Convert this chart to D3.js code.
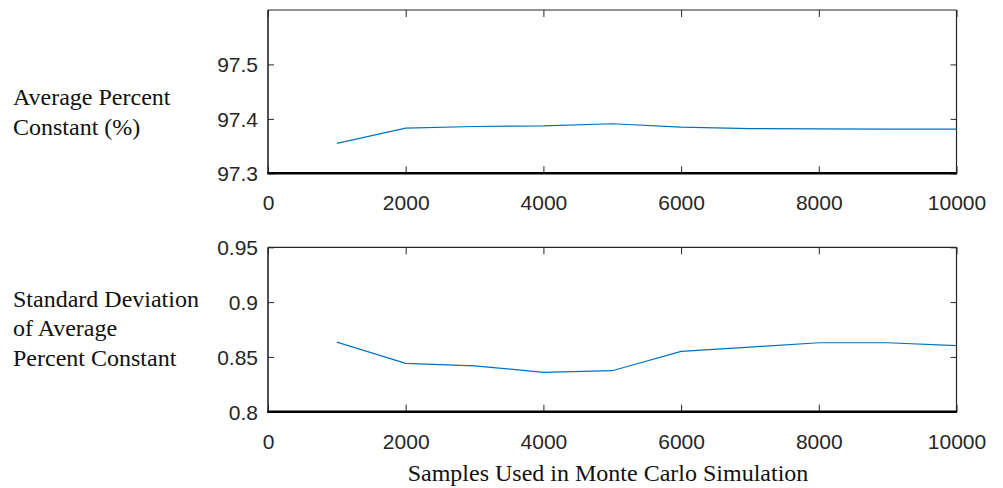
<!DOCTYPE html>
<html>
<head>
<meta charset="utf-8">
<script src="https://cdn.jsdelivr.net/npm/d3@7"></script>
<style>
  body { margin: 0; background: #fff; }
  .tick text { font-family: "Liberation Sans", Arial, sans-serif; font-size: 21px; fill: #262626; }
  .lbl { font-family: "Liberation Serif", "Times New Roman", serif; font-size: 24px; fill: #111; }
</style>
</head>
<body>
<svg id="chart" width="1003" height="488"></svg>
<script>
// samples used (x) and the two series
var samples = [1000, 2000, 3000, 4000, 5000, 6000, 7000, 8000, 9000, 10000];
var avgPercent = [97.355, 97.383, 97.386, 97.387, 97.391, 97.385, 97.382, 97.3815, 97.381, 97.381];
var stdPercent = [0.8635, 0.8441, 0.8419, 0.8359, 0.8374, 0.855, 0.859, 0.8629, 0.8629, 0.8602];
var xTicks = [0, 2000, 4000, 6000, 8000, 10000];
var topTicks = [97.3, 97.4, 97.5];
var botTicks = [0.8, 0.85, 0.9, 0.95];

var svg = d3.select("#chart");
var x = d3.scaleLinear().domain([0, 10000]).range([268, 956.5]);

var drawPanel = function (vals, yDomain, yRange, ticks, labelLines, labelY) {
    var y = d3.scaleLinear().domain(yDomain).range(yRange);
    var g = svg.append("g");
    var x0 = x.range()[0], x1 = x.range()[1], yb = yRange[0], yt = yRange[1];

    // bottom axis, ticks pointing inward
    var xa = g.append("g").attr("transform", "translate(0," + yb + ")")
        .call(d3.axisBottom(x).tickValues(xTicks).tickSize(-7).tickPadding(0).tickFormat(d3.format("d")));
    xa.select(".domain").remove();
    xa.selectAll(".tick line").attr("stroke", "#262626");
    xa.selectAll(".tick text").attr("dy", "1.33em").attr("y", 9);

    // top ticks
    var xt = g.append("g").attr("transform", "translate(0," + yt + ")")
        .call(d3.axisTop(x).tickValues(xTicks).tickSize(-7).tickFormat(""));
    xt.select(".domain").remove();
    xt.selectAll(".tick line").attr("stroke", "#262626");

    // left axis
    var ya = g.append("g").attr("transform", "translate(" + x0 + ",0)")
        .call(d3.axisLeft(y).tickValues(ticks).tickSize(-6).tickPadding(10).tickFormat(function (d) { return String(d); }));
    ya.select(".domain").remove();
    ya.selectAll(".tick line").attr("stroke", "#262626");
    ya.selectAll(".tick text").attr("dy", "0.36em");

    // right ticks
    var yr = g.append("g").attr("transform", "translate(" + x1 + ",0)")
        .call(d3.axisRight(y).tickValues(ticks).tickSize(-6).tickFormat(""));
    yr.select(".domain").remove();
    yr.selectAll(".tick line").attr("stroke", "#262626");

    // box
    g.append("line").attr("x1", x0).attr("x2", x1).attr("y1", yt).attr("y2", yt).attr("stroke", "#262626").attr("stroke-width", 1.2);
    g.append("line").attr("x1", x1).attr("x2", x1).attr("y1", yt).attr("y2", yb).attr("stroke", "#262626").attr("stroke-width", 1.2);
    g.append("line").attr("x1", x0).attr("x2", x0).attr("y1", yt).attr("y2", yb).attr("stroke", "#262626").attr("stroke-width", 1.6);
    g.append("line").attr("x1", x0 - 0.8).attr("x2", x1 + 0.6).attr("y1", yb).attr("y2", yb).attr("stroke", "#000").attr("stroke-width", 2.4);

    // data line
    var line = d3.line().x(function (d, i) { return x(samples[i]); }).y(function (d) { return y(d); });
    g.append("path").datum(vals).attr("d", line)
        .attr("fill", "none").attr("stroke", "#0072BD").attr("stroke-width", 1.2);

    // left label
    var t = g.append("text").attr("class", "lbl").attr("x", 13).attr("y", labelY);
    labelLines.forEach(function (s, i) {
        t.append("tspan").attr("x", 13).attr("dy", i === 0 ? 0 : 29.5).text(s);
    });
};

drawPanel(avgPercent, [97.3, 97.6], [173.3, 10], topTicks, ["Average Percent", "Constant (%)"], 105);
drawPanel(stdPercent, [0.8, 0.95], [411.7, 247.3], botTicks, ["Standard Deviation", "of Average", "Percent Constant"], 306.5);

svg.append("text").attr("class", "lbl")
    .attr("x", 608).attr("y", 481).style("text-anchor", "middle")
    .text("Samples Used in Monte Carlo Simulation");
</script>
</body>
</html>
